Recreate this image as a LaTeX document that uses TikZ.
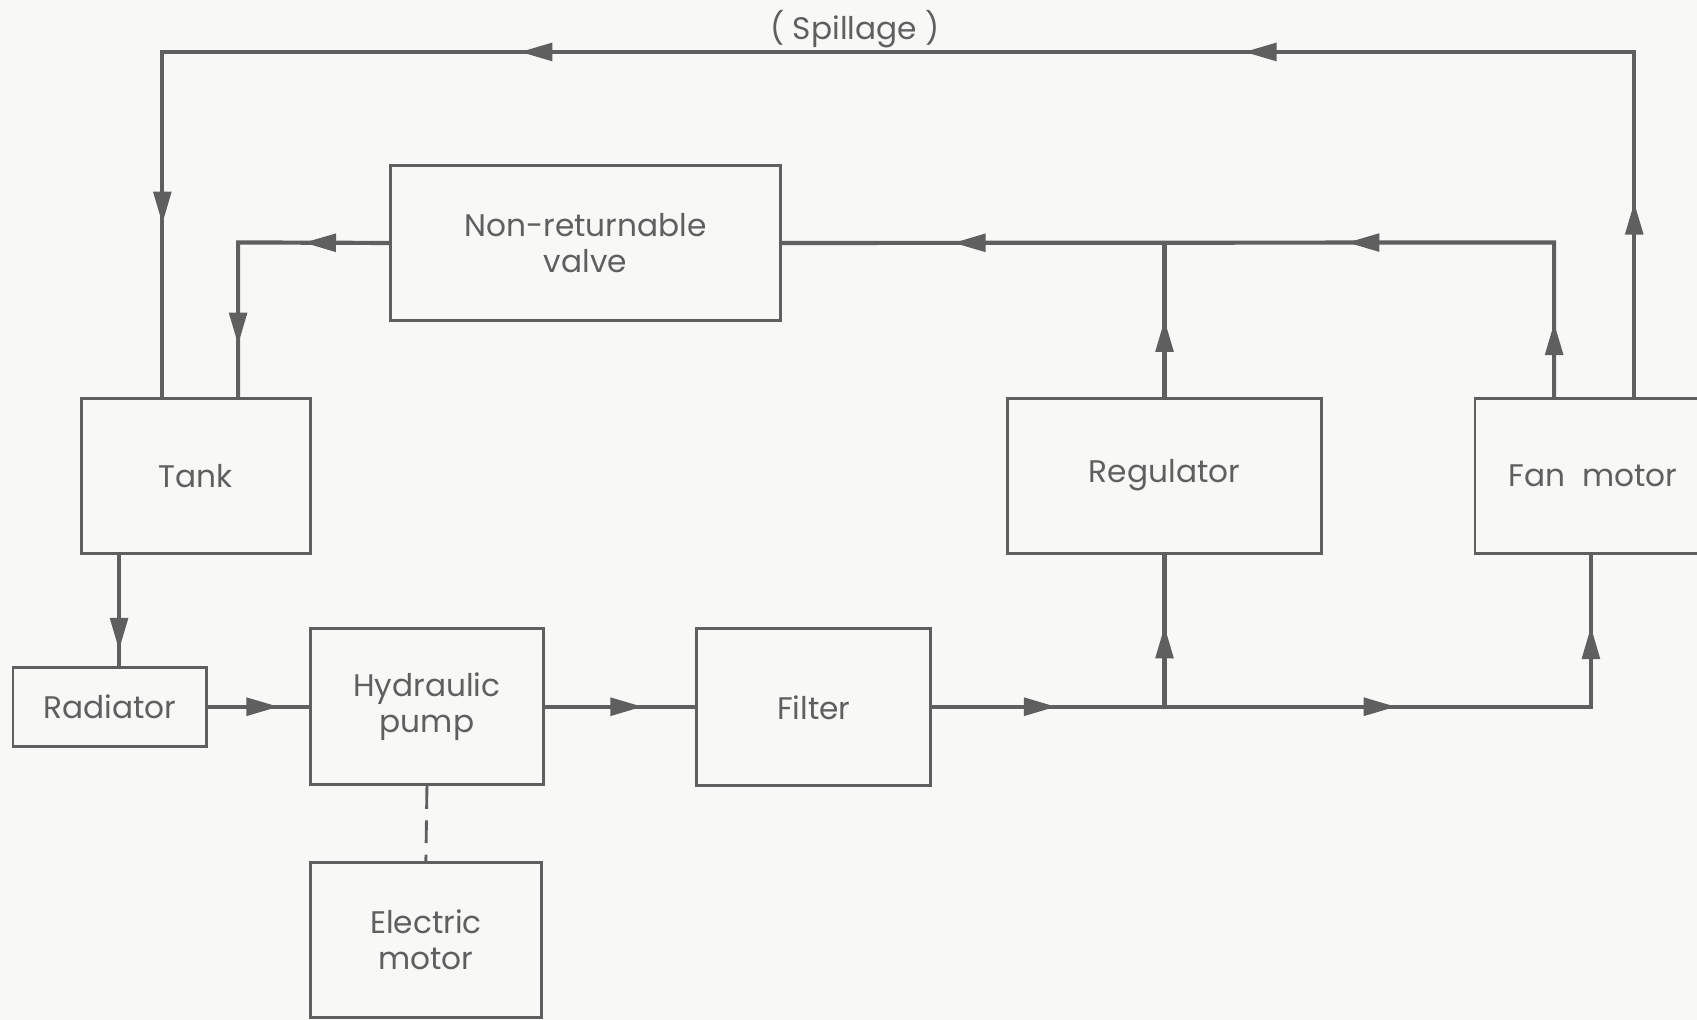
\documentclass[tikz,border=0pt]{standalone}
\usepackage{fontspec}
\setmainfont{Poppins}
\usetikzlibrary{arrows.meta,decorations.markings}
\definecolor{ink}{RGB}{95,95,95}
\definecolor{paper}{RGB}{248,248,246}

\begin{document}
\begin{tikzpicture}[
    x=0.01cm, y=-0.01cm,
    block/.style={draw=ink, line width=0.75pt, text=ink, align=center, inner sep=0pt,
        minimum height=1.43cm, font=\fontsize{8.2}{9.4}\selectfont},
    flow/.style={ink, line width=1.1pt},
    flowtip/.style={postaction={decorate, decoration={markings,
        mark=at position #1 with {\arrow{Triangle[length=8.5pt,width=4.6pt]}}}}},
]
    \useasboundingbox (0,0) rectangle (1568,942);
    \fill[paper] (0,0) rectangle (1568,942);

    % blocks
    \node[block, minimum width=2.12cm] (tank) at (181,439.5) {Tank};
    \node[block, minimum width=3.60cm] (valve) at (541,224.5) {Non-returnable\\valve};
    \node[block, minimum width=2.90cm] (regulator) at (1076,439.5) {Regulator};
    \node[block, minimum width=2.18cm] (fan) at (1472,439.5) {Fan\ \ motor};
    \node[block, minimum width=1.79cm, minimum height=0.73cm] (radiator) at (101.5,653) {Radiator};
    \node[block, minimum width=2.15cm, minimum height=1.44cm] (pump) at (394.5,653) {Hydraulic\\pump};
    \node[block, minimum width=2.16cm, minimum height=1.45cm] (filter) at (752,653.5) {Filter};
    \node[block, minimum width=2.13cm] (motor) at (393.5,868.5) {Electric\\motor};
    \node[text=ink, font=\fontsize{8.2}{9.4}\selectfont] (spill) at (790,27) {( Spillage )};

    % corners and taps
    \coordinate (spL) at (150,48);
    \coordinate (spR) at (1510,48);
    \coordinate (nrL) at (220,224);
    \coordinate (nrR) at (1436,224);
    \coordinate (jTop) at (1076,224);
    \coordinate (jBot) at (1076,653);
    \coordinate (fanIn) at (1470,653);
    \coordinate (tankOut) at (110,0);

    % spillage return
    \draw[flow, flowtip=0.09, flowtip=0.34, flowtip=0.675, flowtip=0.92]
        (fan.north -| spR) -- (spR) -- (spL) -- (tank.north -| spL);
    % return through the valve
    \draw[flow, flowtip=0.08, flowtip=0.39, flowtip=0.815]
        (fan.north -| nrR) -- (nrR) -- (valve.east);
    \draw[flow, flowtip=0.5] (regulator.north) -- (jTop);
    \draw[flow, flowtip=0.28, flowtip=0.83] (valve.west) -- (nrL) -- (tank.north -| nrL);

    % supply
    \draw[flow, flowtip=0.86] (tank.south -| tankOut) -- (radiator.north -| tankOut);
    \draw[flow, flowtip=0.7] (radiator.east) -- (radiator.east -| pump.west);
    \draw[flow, flowtip=0.65] (pump.east) -- (pump.east -| filter.west);
    \draw[flow, flowtip=0.153, flowtip=0.572, flowtip=0.911]
        (filter.east |- jBot) -- (fanIn) -- (fan.south -| fanIn);
    \draw[flow, flowtip=0.53] (jBot) -- (regulator.south);

    % drive
    \draw[ink, line width=0.75pt, dash pattern=on 6pt off 3pt] (pump.south) -- (motor.north);
\end{tikzpicture}
\end{document}
